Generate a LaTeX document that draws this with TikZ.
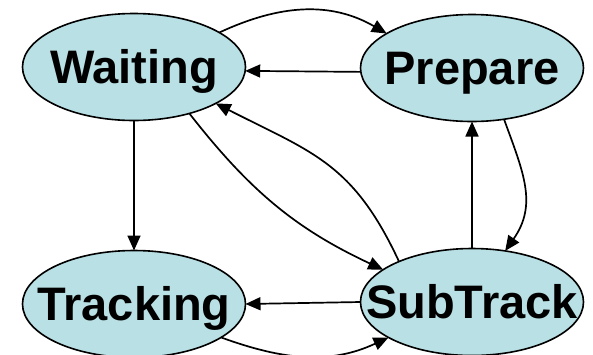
\documentclass[tikz,border=0pt]{standalone}
\usepackage{fontspec}
\setmainfont{Liberation Sans}
\usetikzlibrary{shapes.geometric,arrows.meta}
\definecolor{stfill}{RGB}{185,224,228}
\tikzset{
  state/.style={ellipse, draw=black, line width=1.6pt, fill=stfill,
    minimum width=223pt, minimum height=107pt, inner sep=0pt, outer sep=0pt,
    font=\fontsize{47}{50}\selectfont\bfseries},
  conn/.style={line width=1.7pt, -{Triangle[length=15pt,width=13pt]}}
}
\newcommand{\stlabel}[1]{\raisebox{-0.358em}[0pt][0pt]{\makebox[0pt]{#1}}}
\begin{document}
\begin{tikzpicture}[x=1pt,y=1pt]
\useasboundingbox (0,0) rectangle (593,-354);
\node[state] (W) at (134,-67) {\stlabel{Waiting}};
\node[state] (P) at (472,-68) {\stlabel{Prepare}};
\node[state] (T) at (134,-304) {\stlabel{Tracking}};
\node[state] (S) at (472,-302) {\stlabel{SubTrack}};
\draw[conn] (W.22) to[out=25,in=150] (P.158);
\draw[conn] (P.182) -- (W.-2);
\draw[conn] (W.south) -- (T.north);
\draw[conn] (W.-40) to[out=-52,in=155] (S.160);
\draw[conn] (S.151) to[out=115,in=-27,looseness=1.15] (W.-24);
\draw[conn] (S.north) -- (P.south);
\draw[conn] (P.-58) to[out=-70,in=55,looseness=1.1] (S.57);
\draw[conn] (T.-21) to[out=-20,in=-155] (S.-157);
\draw[conn] (S.180) -- (T.0);
\end{tikzpicture}
\end{document}
